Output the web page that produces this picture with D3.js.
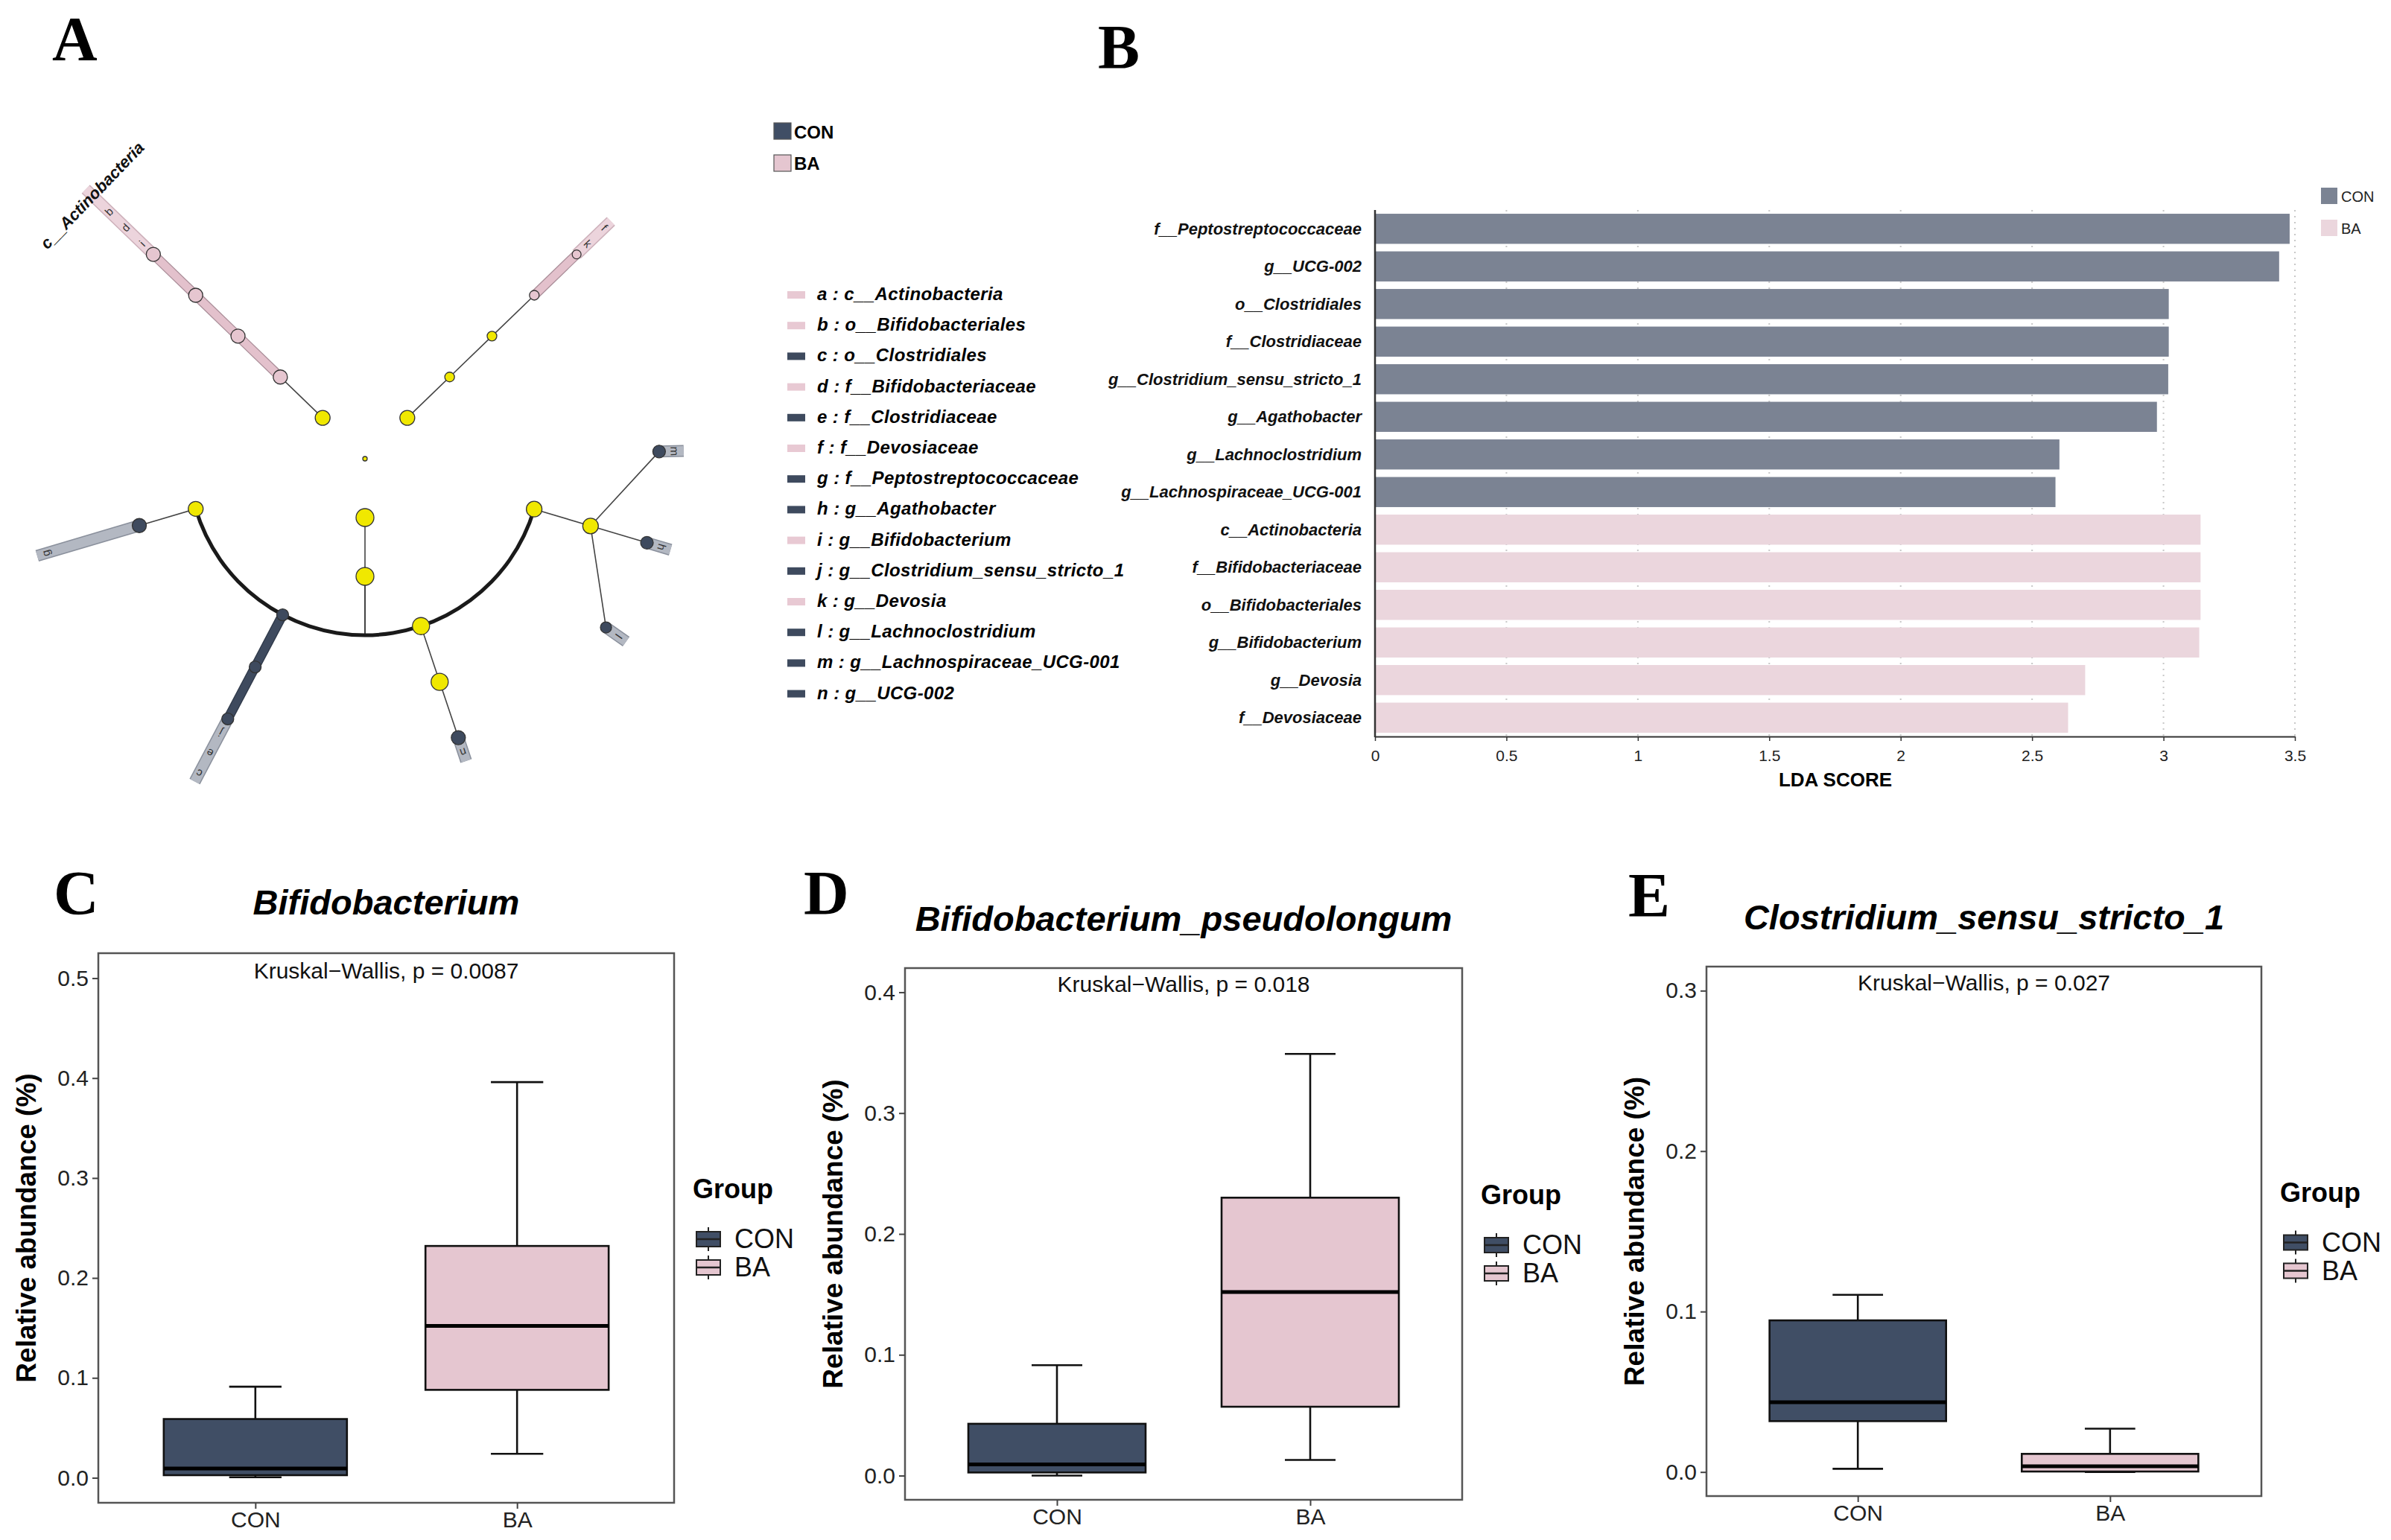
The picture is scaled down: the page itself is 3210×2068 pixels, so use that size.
<!DOCTYPE html>
<html>
<head>
<meta charset="utf-8">
<script src="https://cdn.jsdelivr.net/npm/d3@7"></script>
<style>
body { margin: 0; background: #fff; }
text { font-family: "Liberation Sans", Arial, sans-serif; }
</style>
</head>
<body>
<div id="chart"></div>
<script>
// ---------- data ----------
const groups = ["CON", "BA"]

// panel A legend (letter, taxon, enriched group)
const cladeKeys = ["a", "b", "c", "d", "e", "f", "g", "h", "i", "j", "k", "l", "m", "n"]
const cladeTaxa = ["c__Actinobacteria", "o__Bifidobacteriales", "o__Clostridiales", "f__Bifidobacteriaceae",
  "f__Clostridiaceae", "f__Devosiaceae", "f__Peptostreptococcaceae", "g__Agathobacter", "g__Bifidobacterium",
  "g__Clostridium_sensu_stricto_1", "g__Devosia", "g__Lachnoclostridium", "g__Lachnospiraceae_UCG-001", "g__UCG-002"]
const cladeGroup = ["BA", "BA", "CON", "BA", "CON", "BA", "CON", "CON", "BA", "CON", "BA", "CON", "CON", "CON"]

// cladogram tree: level = ring, angle in degrees, size = node radius
const cladeNodes = [
  {id: "root", parent: null, level: 0, angle: 0, size: 3},
  {id: "p__Actinobacteriota", parent: "root", level: 1, angle: 224, size: 10},
  {id: "c__Actinobacteria", parent: "p__Actinobacteriota", level: 2, angle: 224, size: 9.5},
  {id: "o__Bifidobacteriales", parent: "c__Actinobacteria", level: 3, angle: 224, size: 9.5},
  {id: "f__Bifidobacteriaceae", parent: "o__Bifidobacteriales", level: 4, angle: 224, size: 9.5},
  {id: "g__Bifidobacterium", parent: "f__Bifidobacteriaceae", level: 5, angle: 224, size: 9.5},
  {id: "p__Proteobacteria", parent: "root", level: 1, angle: 316, size: 10},
  {id: "c__Alphaproteobacteria", parent: "p__Proteobacteria", level: 2, angle: 316, size: 6.5},
  {id: "o__Rhizobiales", parent: "c__Alphaproteobacteria", level: 3, angle: 316, size: 6.5},
  {id: "f__Devosiaceae", parent: "o__Rhizobiales", level: 4, angle: 316, size: 6.5},
  {id: "g__Devosia", parent: "f__Devosiaceae", level: 5, angle: 316, size: 6},
  {id: "p__Firmicutes", parent: "root", level: 1, angle: 90, size: 12},
  {id: "c__Clostridia", parent: "p__Firmicutes", level: 2, angle: 90, size: 12, arc: true},
  {id: "o__Peptostreptococcales", parent: "c__Clostridia", level: 3, angle: 163.5, size: 10},
  {id: "f__Peptostreptococcaceae", parent: "o__Peptostreptococcales", level: 4, angle: 163.5, size: 9.5},
  {id: "o__Clostridiales", parent: "c__Clostridia", level: 3, angle: 117.8, size: 8},
  {id: "f__Clostridiaceae", parent: "o__Clostridiales", level: 4, angle: 117.8, size: 8},
  {id: "g__Clostridium_sensu_stricto_1", parent: "f__Clostridiaceae", level: 5, angle: 117.8, size: 8},
  {id: "o__Oscillospirales", parent: "c__Clostridia", level: 3, angle: 71.5, size: 11.5},
  {id: "f__Oscillospiraceae", parent: "o__Oscillospirales", level: 4, angle: 71.5, size: 11.5},
  {id: "g__UCG-002", parent: "f__Oscillospiraceae", level: 5, angle: 71.5, size: 9.5},
  {id: "o__Lachnospirales", parent: "c__Clostridia", level: 3, angle: 16.6, size: 10.5},
  {id: "f__Lachnospiraceae", parent: "o__Lachnospirales", level: 4, angle: 16.6, size: 10.5},
  {id: "g__Lachnospiraceae_UCG-001", parent: "f__Lachnospiraceae", level: 5, angle: -1.4, size: 8.5},
  {id: "g__Agathobacter", parent: "f__Lachnospiraceae", level: 5, angle: 16.6, size: 8.5},
  {id: "g__Lachnoclostridium", parent: "f__Lachnospiraceae", level: 5, angle: 35, size: 7.5}
]

// panel B: LDA scores
const ldaTaxa = ["f__Peptostreptococcaceae", "g__UCG-002", "o__Clostridiales", "f__Clostridiaceae",
  "g__Clostridium_sensu_stricto_1", "g__Agathobacter", "g__Lachnoclostridium", "g__Lachnospiraceae_UCG-001",
  "c__Actinobacteria", "f__Bifidobacteriaceae", "o__Bifidobacteriales", "g__Bifidobacterium", "g__Devosia", "f__Devosiaceae"]
const ldaScore = [3.48, 3.44, 3.02, 3.02, 3.018, 2.975, 2.604, 2.589, 3.141, 3.141, 3.141, 3.136, 2.702, 2.637]
const ldaGroup = ["CON", "CON", "CON", "CON", "CON", "CON", "CON", "CON", "BA", "BA", "BA", "BA", "BA", "BA"]
const ldaTicks = [0, 0.5, 1, 1.5, 2, 2.5, 3, 3.5]

// panels C-E: box stats [min, q1, median, q3, max]
const bifidoCON = [0.0005, 0.0026, 0.0093, 0.0588, 0.0912]
const bifidoBA = [0.024, 0.088, 0.152, 0.232, 0.396]
const pseudoCON = [0.0, 0.0026, 0.0093, 0.0429, 0.0914]
const pseudoBA = [0.013, 0.057, 0.152, 0.230, 0.349]
const clostCON = [0.002, 0.0317, 0.0435, 0.0945, 0.1104]
const clostBA = [0.0, 0.0003, 0.0036, 0.0113, 0.027]
const bifidoTicks = [0, 0.1, 0.2, 0.3, 0.4, 0.5]
const pseudoTicks = [0, 0.1, 0.2, 0.3, 0.4]
const clostTicks = [0, 0.1, 0.2, 0.3]

// ---------- drawing ----------
const boxFill = {CON: "#404e65", BA: "#e5c6d0"}
const ldaFill = {CON: "#7b8393", BA: "#ebd6dd"}

const svg = d3.select("#chart").append("svg")
  .attr("width", 3210).attr("height", 2068)
  .style("background", "#fff")

// panel letters
const letters = [["A", 70, 81], ["B", 1474, 92], ["C", 72, 1228], ["D", 1079, 1228], ["E", 2186, 1231]]
letters.forEach(l => {
  svg.append("text").attr("x", l[1]).attr("y", l[2]).text(l[0])
    .style("font-family", "'Liberation Serif', 'Times New Roman', serif")
    .style("font-weight", "bold").style("font-size", "84px")
})

// ===== A: cladogram =====
const cx = 490, cy = 616
const ring = d3.scaleLinear().domain([0, 5]).range([0, 395])
const labelR = lv => ring(5) + 21 + 31 * (5 - lv)
const toRad = a => a * Math.PI / 180
const pt = (r, a) => [cx + r * Math.cos(toRad(a)), cy + r * Math.sin(toRad(a))]

const byId = {}
cladeNodes.forEach(n => { byId[n.id] = n })
cladeNodes.forEach(n => {
  const i = cladeTaxa.indexOf(n.id)
  n.group = i >= 0 ? cladeGroup[i] : null
  n.key = i >= 0 ? cladeKeys[i] : null
})
const kids = id => cladeNodes.filter(n => n.parent === id)

const gA = svg.append("g")
const bandLight = {CON: "#b3b8c2", BA: "#ecd4dc"}
const bandLightEdge = {CON: "#8a909c", BA: "#cdb0ba"}
const bandDark = {CON: "#3e4a5e", BA: "#e3c1cc"}
const bandDarkEdge = {CON: "#2e3848", BA: "#a98d98"}

// tip highlight bands with letters
const tips = cladeNodes.filter(n => n.group && !kids(n.id).some(k => k.group === n.group))
tips.forEach(t => {
  const chain = [t]
  let p = byId[t.parent]
  while (p && p.group === t.group) { chain.push(p); p = byId[p.parent] }
  const top = d3.min(chain, c => c.level)
  const a = ring(t.level), b = labelR(top) + 12
  const p0 = pt(a, t.angle), p1 = pt(b, t.angle)
  gA.append("line").attr("x1", p0[0]).attr("y1", p0[1]).attr("x2", p1[0]).attr("y2", p1[1])
    .attr("stroke", bandLightEdge[t.group]).attr("stroke-width", 16)
  gA.append("line").attr("x1", p0[0]).attr("y1", p0[1]).attr("x2", p1[0]).attr("y2", p1[1])
    .attr("stroke", bandLight[t.group]).attr("stroke-width", 13)
  t.chain = chain
})

// plain edges
cladeNodes.forEach(n => {
  if (!n.parent || n.parent === "root") return
  const par = byId[n.parent]
  if (par.arc) {
    const p0 = pt(ring(par.level), par.angle), p1 = pt(ring(n.level), par.angle)
    gA.append("line").attr("x1", p0[0]).attr("y1", p0[1]).attr("x2", p1[0]).attr("y2", p1[1])
      .attr("stroke", "#444").attr("stroke-width", 1.6)
    return
  }
  const p0 = pt(ring(par.level), par.angle), p1 = pt(ring(n.level), n.angle)
  if (n.group && par.group === n.group) {
    gA.append("line").attr("x1", p0[0]).attr("y1", p0[1]).attr("x2", p1[0]).attr("y2", p1[1])
      .attr("stroke", bandDarkEdge[n.group]).attr("stroke-width", 13)
    gA.append("line").attr("x1", p0[0]).attr("y1", p0[1]).attr("x2", p1[0]).attr("y2", p1[1])
      .attr("stroke", bandDark[n.group]).attr("stroke-width", 10.5)
  } else {
    gA.append("line").attr("x1", p0[0]).attr("y1", p0[1]).attr("x2", p1[0]).attr("y2", p1[1])
      .attr("stroke", "#444").attr("stroke-width", 1.6)
  }
})

// arcs joining children of arc nodes
cladeNodes.filter(n => n.arc).forEach(par => {
  const ks = kids(par.id)
  const lv = ks[0].level
  const a0 = d3.min(ks, k => k.angle), a1 = d3.max(ks, k => k.angle)
  const arc = d3.arc().innerRadius(ring(lv) - 2.5).outerRadius(ring(lv) + 2.5)
    .startAngle(toRad(a0 + 90)).endAngle(toRad(a1 + 90))
  gA.append("path").attr("d", arc()).attr("transform", `translate(${cx},${cy})`).attr("fill", "#1a1a1a")
})

// nodes
cladeNodes.forEach(n => {
  const p = pt(ring(n.level), n.angle)
  gA.append("circle").attr("cx", p[0]).attr("cy", p[1]).attr("r", n.size)
    .attr("fill", n.group ? (n.group === "CON" ? "#3e4a5e" : "#e6c6d0") : "#f0e800")
    .attr("stroke", "#333").attr("stroke-width", 1.3)
})

// letters and the class-level name
tips.forEach(t => {
  t.chain.forEach(c => {
    const p = pt(labelR(c.level), t.angle)
    const lbl = c.level <= 2 ? c.id : c.key
    gA.append("text").attr("x", p[0]).attr("y", p[1])
      .attr("transform", `rotate(${t.angle + 90},${p[0]},${p[1]})`)
      .attr("text-anchor", "middle").attr("dominant-baseline", "central")
      .style("font-size", c.level <= 2 ? "22px" : "15px")
      .style("font-weight", c.level <= 2 ? "bold" : "normal")
      .style("font-style", c.level <= 2 ? "italic" : "normal")
      .attr("fill", c.level <= 2 ? "#111" : "#333")
      .text(lbl)
  })
})

// A legend
const legA = svg.append("g")
groups.forEach((g, i) => {
  legA.append("rect").attr("x", 1039).attr("y", 165 + i * 43).attr("width", 23).attr("height", 22)
    .attr("fill", boxFill[g]).attr("stroke", "#555").attr("stroke-width", 1.2)
  legA.append("text").attr("x", 1066).attr("y", 186 + i * 42).text(g)
    .style("font-size", "24px").style("font-weight", "bold")
})
cladeKeys.forEach((k, i) => {
  const y = 403 + i * 41.2
  legA.append("rect").attr("x", 1057).attr("y", y - 12).attr("width", 24).attr("height", 10)
    .attr("fill", cladeGroup[i] === "CON" ? "#3e4a5e" : "#e8c9d3")
  legA.append("text").attr("x", 1097).attr("y", y).text(k + " : " + cladeTaxa[i])
    .style("font-size", "24px").style("font-weight", "bold").style("font-style", "italic")
    .style("letter-spacing", "0.4px")
})

// ===== B: LDA bars =====
const gB = svg.append("g")
const xL = d3.scaleLinear().domain([0, 3.5]).range([1846, 3081])
const yL = d3.scaleBand().domain(ldaTaxa).range([282, 989]).paddingInner(0.2).paddingOuter(0.1)

gB.selectAll(".grid").data(ldaTicks.slice(1)).enter().append("line")
  .attr("x1", d => xL(d)).attr("x2", d => xL(d)).attr("y1", 282).attr("y2", 989)
  .attr("stroke", "#c8c8c8").attr("stroke-width", 2).attr("stroke-dasharray", "2,6")

gB.selectAll(".bar").data(ldaTaxa).enter().append("rect")
  .attr("x", xL(0)).attr("y", d => yL(d))
  .attr("width", (d, i) => xL(ldaScore[i]) - xL(0)).attr("height", yL.bandwidth())
  .attr("fill", (d, i) => ldaFill[ldaGroup[i]])

gB.selectAll(".lab").data(ldaTaxa).enter().append("text")
  .attr("x", 1828).attr("y", d => yL(d) + yL.bandwidth() / 2)
  .attr("text-anchor", "end").attr("dominant-baseline", "central")
  .style("font-size", "22px").style("font-weight", "bold").style("font-style", "italic")
  .attr("fill", "#111").text(d => d)

const axB = gB.append("g").attr("transform", "translate(0,989)")
  .call(d3.axisBottom(xL).tickValues(ldaTicks).tickFormat(d => d).tickSize(6).tickPadding(12).tickSizeOuter(0))
axB.select(".domain").attr("stroke", "#333").attr("stroke-width", 2)
axB.selectAll(".tick line").attr("stroke", "#333").attr("stroke-width", 1.5)
axB.selectAll("text").style("font-size", "21px").attr("fill", "#222")
gB.append("line").attr("x1", 1846).attr("x2", 1846).attr("y1", 282).attr("y2", 990)
  .attr("stroke", "#333").attr("stroke-width", 2.5)
gB.append("text").attr("x", 2464).attr("y", 1056).attr("text-anchor", "middle")
  .style("font-size", "26px").style("font-weight", "bold").text("LDA SCORE")

groups.forEach((g, i) => {
  gB.append("rect").attr("x", 3116).attr("y", 252 + i * 43).attr("width", 22).attr("height", 22)
    .attr("fill", ldaFill[g])
  gB.append("text").attr("x", 3143).attr("y", 271 + i * 43).text(g)
    .style("font-size", "20px").attr("fill", "#222")
})

// ===== C-E: boxplots =====
function boxPanel(o) {
  const g = svg.append("g")
  const x = d3.scalePoint().domain(groups).range([o.left, o.right]).padding(0.6)
  const step = x.step()
  const y = d3.scaleLinear().domain(o.domain).range([o.bottom, o.top])
  const bw = step * 0.7, cw = step * 0.2
  const stats = {CON: o.con, BA: o.ba}

  groups.forEach(k => {
    const s = stats[k], c = x(k)
    g.append("line").attr("x1", c).attr("x2", c).attr("y1", y(s[0])).attr("y2", y(s[1]))
      .attr("stroke", "#111").attr("stroke-width", 2.6)
    g.append("line").attr("x1", c).attr("x2", c).attr("y1", y(s[3])).attr("y2", y(s[4]))
      .attr("stroke", "#111").attr("stroke-width", 2.6)
    ;[s[0], s[4]].forEach(v => {
      g.append("line").attr("x1", c - cw / 2).attr("x2", c + cw / 2).attr("y1", y(v)).attr("y2", y(v))
        .attr("stroke", "#111").attr("stroke-width", 2.6)
    })
    g.append("rect").attr("x", c - bw / 2).attr("width", bw)
      .attr("y", y(s[3])).attr("height", y(s[1]) - y(s[3]))
      .attr("fill", boxFill[k]).attr("stroke", "#111").attr("stroke-width", 2.6)
    g.append("line").attr("x1", c - bw / 2).attr("x2", c + bw / 2).attr("y1", y(s[2])).attr("y2", y(s[2]))
      .attr("stroke", "#000").attr("stroke-width", 5)
  })

  g.append("rect").attr("x", o.left).attr("y", o.top).attr("width", o.right - o.left).attr("height", o.bottom - o.top)
    .attr("fill", "none").attr("stroke", "#555").attr("stroke-width", 2.5)

  const ay = g.append("g").attr("transform", `translate(${o.left},0)`)
    .call(d3.axisLeft(y).tickValues(o.ticks).tickFormat(d3.format(".1f")).tickSize(8).tickPadding(5))
  ay.select(".domain").remove()
  ay.selectAll(".tick line").attr("stroke", "#444").attr("stroke-width", 2)
  ay.selectAll("text").style("font-size", "30px").attr("fill", "#222")

  const ax = g.append("g").attr("transform", `translate(0,${o.bottom})`)
    .call(d3.axisBottom(x).tickSize(8).tickPadding(4))
  ax.select(".domain").remove()
  ax.selectAll(".tick line").attr("stroke", "#444").attr("stroke-width", 2)
  ax.selectAll("text").style("font-size", "30px").attr("fill", "#222")

  const midY = (o.top + o.bottom) / 2
  g.append("text").attr("transform", `translate(${o.left - 97},${midY}) rotate(-90)`)
    .attr("text-anchor", "middle").attr("dominant-baseline", "central")
    .style("font-size", "37px").style("font-weight", "bold").text("Relative abundance (%)")

  g.append("text").attr("x", (o.left + o.right) / 2).attr("y", o.titleY).attr("text-anchor", "middle")
    .style("font-size", "47px").style("font-weight", "bold").style("font-style", "italic").text(o.title)

  g.append("text").attr("x", (o.left + o.right) / 2).attr("y", y(d3.max(o.ticks))).attr("text-anchor", "middle")
    .style("font-size", "30px").attr("fill", "#111").text(o.pText)

  // legend
  const lx = o.right + 25
  g.append("text").attr("x", lx).attr("y", midY - 40).text("Group")
    .style("font-size", "36px").style("font-weight", "bold")
  groups.forEach((k, i) => {
    const ry = midY + 15 + i * 38
    const kx = lx + 21
    g.append("line").attr("x1", kx).attr("x2", kx).attr("y1", ry - 16).attr("y2", ry + 16)
      .attr("stroke", "#222").attr("stroke-width", 2)
    g.append("rect").attr("x", kx - 16).attr("y", ry - 10).attr("width", 32).attr("height", 20)
      .attr("fill", boxFill[k]).attr("stroke", "#222").attr("stroke-width", 2)
    g.append("line").attr("x1", kx - 16).attr("x2", kx + 16).attr("y1", ry).attr("y2", ry)
      .attr("stroke", "#222").attr("stroke-width", 2.5)
    g.append("text").attr("x", lx + 56).attr("y", ry + 12).text(k).style("font-size", "36px").attr("fill", "#111")
  })
}

boxPanel({left: 132, right: 905, top: 1280, bottom: 2018, domain: [-0.025, 0.525], ticks: bifidoTicks,
  con: bifidoCON, ba: bifidoBA, title: "Bifidobacterium", titleY: 1228, pText: "Kruskal\u2212Wallis, p = 0.0087"})
boxPanel({left: 1215, right: 1963, top: 1300, bottom: 2014, domain: [-0.02, 0.42], ticks: pseudoTicks,
  con: pseudoCON, ba: pseudoBA, title: "Bifidobacterium_pseudolongum", titleY: 1250, pText: "Kruskal\u2212Wallis, p = 0.018"})
boxPanel({left: 2291, right: 3036, top: 1298, bottom: 2009, domain: [-0.015, 0.315], ticks: clostTicks,
  con: clostCON, ba: clostBA, title: "Clostridium_sensu_stricto_1", titleY: 1248, pText: "Kruskal\u2212Wallis, p = 0.027"})
</script>
</body>
</html>
